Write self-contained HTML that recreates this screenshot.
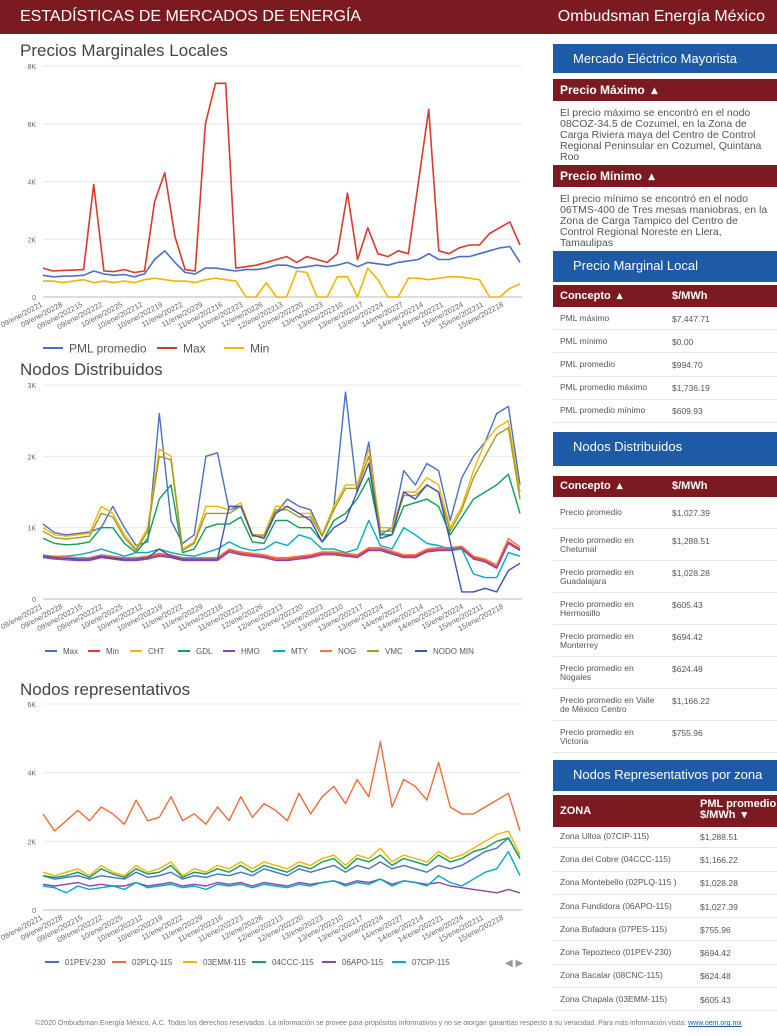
<!DOCTYPE html>
<html><head><meta charset="utf-8">
<style>
*{margin:0;padding:0;box-sizing:border-box}
body{width:777px;height:1036px;position:relative;background:#fff;font-family:"Liberation Sans",sans-serif;overflow:hidden;color:#555}
.abs{position:absolute}
.hdr{left:0;top:0;width:777px;height:34px;background:#7b1a21;color:#fff}
.blue{position:absolute;left:553px;width:224px;background:#1f5aa6;color:#fff;font-size:13px;padding-left:20px}
.mar{position:absolute;left:553px;width:224px;background:#7b1a21;color:#fff;font-size:12px;font-weight:bold;padding-left:7px}
.txt{position:absolute;left:560px;width:212px;font-size:10.5px;line-height:11px;color:#555}
.row{position:absolute;left:553px;width:224px;border-bottom:1px solid #e6e6e6;font-size:8.5px;color:#555}
.row span{position:absolute}
.ctitle{position:absolute;left:20px;font-size:17px;color:#444}
</style></head><body>
<div class="abs hdr">
 <div class="abs" style="left:20px;top:8px;font-size:16px">ESTADÍSTICAS DE MERCADOS DE ENERGÍA</div>
 <div class="abs" style="right:12px;top:8px;font-size:16px">Ombudsman Energía México</div>
</div>

<div class="ctitle" style="top:41px">Precios Marginales Locales</div>
<div class="ctitle" style="top:360px">Nodos Distribuidos</div>
<div class="ctitle" style="top:680px">Nodos representativos</div>

<svg id="charts" class="abs" style="left:0;top:0" width="550" height="1010"></svg>

<div class="abs" style="left:0;top:1020px;width:777px;text-align:center;font-size:7px;color:#777">©2020 Ombudsman Energía México, A.C. Todos los derechos reservados. La información se provee para propósitos informativos y no se otorgan garantías respecto a su veracidad. Para más información visita: <span style="color:#1f5aa6;text-decoration:underline">www.oem.org.mx</span></div>

<!-- right panel -->
<div class="blue" style="top:44px;height:29px;line-height:29px">Mercado Eléctrico Mayorista</div>
<div class="mar" style="top:79px;height:22px;line-height:22px">Precio Máximo &nbsp;▴</div>
<div class="txt" style="top:108px">El precio máximo se encontró en el nodo 08COZ-34.5 de Cozumel, en la Zona de Carga Riviera maya del Centro de Control Regional Peninsular en Cozumel, Quintana Roo</div>
<div class="mar" style="top:165px;height:22px;line-height:22px">Precio Mínimo &nbsp;▴</div>
<div class="txt" style="top:194px">El precio mínimo se encontró en el nodo 06TMS-400 de Tres mesas maniobras, en la Zona de Carga Tampico del Centro de Control Regional Noreste en Llera, Tamaulipas</div>
<div class="blue" style="top:251px;height:31px;line-height:29px">Precio Marginal Local</div>
<div class="mar" style="top:285px;height:22px;line-height:22px;font-size:11px">Concepto &nbsp;▴<span style="position:absolute;left:119px">$/MWh</span></div>
<div id="pmlrows"></div>
<div class="blue" style="top:432px;height:34px;line-height:30px">Nodos Distribuidos</div>
<div class="mar" style="top:476px;height:21px;line-height:21px;font-size:11px">Concepto &nbsp;▴<span style="position:absolute;left:119px">$/MWh</span></div>
<div id="ndrows"></div>
<div class="blue" style="top:760px;height:31px;line-height:29px">Nodos Representativos por zona</div>
<div class="mar" style="top:795px;height:32px;font-size:11px"><span style="position:absolute;top:10px">ZONA</span><span style="position:absolute;left:147px;top:4px;line-height:11px">PML promedio<br>$/MWh &nbsp;▾</span></div>
<div id="reprows"></div>

<script>
const NS="http://www.w3.org/2000/svg";
const svg=document.getElementById('charts');
const xLabels=["09/ene/20221","09/ene/20228","09/ene/202215","09/ene/202222","10/ene/20225","10/ene/202212","10/ene/202219","11/ene/20222","11/ene/20229","11/ene/202216","11/ene/202223","12/ene/20226","12/ene/202213","12/ene/202220","13/ene/20223","13/ene/202210","13/ene/202217","13/ene/202224","14/ene/20227","14/ene/202214","14/ene/202221","15/ene/20224","15/ene/202211","15/ene/202218"];

// chart 1
const c1Names=["PML promedio","Max","Min"];
const c1Ticks=[0,2000,4000,6000,8000];
const c1Max=[1000,900,920,930,950,3900,900,880,950,850,900,3300,4300,2100,950,900,6000,7400,7400,1000,1050,1100,1200,1300,1400,1200,1400,1300,1200,1500,3600,1300,2400,1500,1400,1600,1500,4000,6500,1600,1500,1700,1800,1800,2200,2400,2600,1800];
const c1Avg=[750,700,720,730,750,900,800,750,780,700,800,1300,1600,1200,850,800,1000,1000,950,900,950,950,1000,1100,1100,1000,1050,1100,1050,1100,1200,1050,1200,1150,1100,1200,1250,1300,1500,1300,1300,1400,1400,1500,1600,1700,1750,1200];
const c1Min=[550,550,500,550,600,500,550,500,550,500,600,650,600,550,550,500,600,650,600,550,0,0,500,0,0,900,850,0,0,700,700,0,1000,600,0,0,650,650,600,650,700,700,650,600,0,0,300,450];

// chart 2
const c2Names=["Max","Min","CHT","GDL","HMO","MTY","NOG","VMC","NODO MIN"];
const c2Ticks=[0,1000,2000,3000];
const c2Max=[1050,930,900,920,940,1000,1300,1000,750,800,2600,1100,780,900,2000,2050,1250,1300,900,900,1200,1400,1300,1250,900,1300,2900,1500,2200,900,1000,1800,1600,1900,1800,1100,1700,2000,2200,2600,2700,1600];
const c2Min=[600,580,570,560,560,600,580,560,560,580,620,600,560,560,560,560,680,640,620,600,560,560,580,600,640,640,620,600,700,700,650,600,600,680,700,700,720,580,540,450,800,700];
const c2CHT=[1000,900,880,900,920,1300,1200,900,700,1000,2100,2000,700,800,1300,1300,1250,1350,900,900,1300,1300,1200,1200,900,1300,1600,1600,2100,1000,1000,1500,1500,1700,1600,1000,1300,1800,2200,2400,2500,1500];
const c2GDL=[850,780,760,770,800,1000,1000,780,650,850,1400,1600,650,700,1000,1050,1050,1150,800,780,1100,1100,1000,1000,800,1100,1200,1400,1700,900,900,1300,1350,1400,1300,900,1150,1400,1500,1600,1750,1200];
const c2HMO=[580,560,550,540,540,580,560,540,540,560,600,580,540,540,540,540,660,620,600,580,540,540,560,580,620,620,600,580,680,680,630,580,580,660,680,680,700,560,520,430,780,680];
const c2MTY=[600,600,600,620,650,700,650,600,650,650,700,650,620,600,650,700,800,720,680,700,800,750,900,850,700,700,650,700,1100,750,700,1000,900,780,750,700,700,350,300,300,650,600];
const c2NOG=[620,600,590,580,580,620,600,580,580,600,640,620,580,580,580,580,700,660,640,620,580,580,600,620,660,660,640,620,720,720,670,620,620,700,720,720,740,600,560,480,850,730];
const c2VMC=[950,860,840,860,880,1200,1150,860,680,950,2000,1950,680,780,1200,1200,1200,1300,880,880,1250,1250,1150,1150,880,1250,1550,1550,2000,950,950,1450,1450,1600,1500,950,1250,1700,2000,2300,2400,1400];
const c2NodoMin=[600,580,570,560,560,600,570,560,560,580,700,600,560,560,560,560,1300,1300,900,850,1200,1300,1200,1100,800,1000,1100,1500,1900,850,900,1500,1400,1600,1500,800,100,100,150,100,400,500];

// chart 3
const c3Names=["01PEV-230","02PLQ-115","03EMM-115","04CCC-115","06APO-115","07CIP-115"];
const c3Ticks=[0,2000,4000,6000];
const c3PEV=[1000,900,950,1000,900,1000,950,900,1100,950,1000,1100,900,1000,950,1050,1000,1100,1000,1200,1100,1000,1200,1100,1200,1300,1100,1300,1200,1400,1200,1300,1200,1100,1300,1200,1300,1500,1700,1800,2100,1500];
const c3PLQ=[2800,2300,2600,2900,2600,3000,2800,2500,3200,2600,2700,3300,2600,2800,2500,3000,2600,3300,2700,3100,2900,2600,3400,2800,3300,3600,3100,3800,3300,4900,3000,3800,3600,3200,4300,3000,2800,2800,3000,3200,3400,2300];
const c3EMM=[1100,1000,1100,1200,1000,1300,1100,1000,1300,1100,1200,1400,1000,1200,1100,1300,1200,1400,1200,1400,1300,1200,1400,1300,1500,1600,1300,1600,1500,1800,1400,1600,1500,1400,1700,1500,1600,1800,2000,2200,2300,1600];
const c3CCC=[1000,950,1000,1100,950,1200,1050,950,1200,1050,1100,1300,950,1100,1050,1200,1100,1300,1100,1300,1200,1100,1300,1200,1400,1500,1200,1500,1400,1600,1300,1500,1400,1300,1600,1400,1500,1700,1800,2000,2100,1500];
const c3APO=[750,700,750,800,700,750,700,700,800,700,750,800,700,750,700,800,750,800,700,800,750,700,800,750,800,850,750,850,800,900,750,850,800,750,800,700,650,600,550,500,600,500];
const c3CIP=[700,650,500,700,600,650,700,600,800,650,700,750,650,700,600,750,700,750,650,750,700,650,750,700,800,850,700,800,750,900,700,850,800,700,1000,800,700,900,1100,1200,1700,1000];

function el(tag,attrs,parent){const e=document.createElementNS(NS,tag);for(const k in attrs)e.setAttribute(k,attrs[k]);(parent||svg).appendChild(e);return e;}

function chart(o){
 const g=el('g',{});
 
 
 const x0=43,x1=520;
 const maxV=o.ticks[o.ticks.length-1];
 const y=v=>o.yb-(v/maxV)*(o.yb-o.yt);
 o.ticks.forEach(t=>{
  const ln=el('line',{x1:x0,x2:x1+2,y1:y(t),y2:y(t),stroke:t===0?'#bbb':'#e8e8e8','stroke-width':1},g);
  
  
  const tx=el('text',{x:36,y:y(t)+3,'font-size':7,fill:'#666','text-anchor':'end'},g);
  tx.textContent=t===0?'0':(t/1000)+'K';
  
  
 });
 xLabels.forEach((l,i)=>{
  const xx=x0+i*(x1-x0)/23.8;
  const tx=el('text',{x:xx,y:o.yb+9,'font-size':7.5,fill:'#666','text-anchor':'end',transform:`rotate(-28 ${xx} ${o.yb+9})`},g);
  tx.textContent=l;
  
  
 });
 o.series.forEach((s,si)=>{
  const n=s.length;
  const pts=s.map((v,i)=>(x0+i*(x1-x0)/(n-1)).toFixed(1)+','+y(v).toFixed(1)).join(' ');
  const p=el('polyline',{points:pts,fill:'none',stroke:o.colors[si],'stroke-width':o.sw||1.6,'stroke-linejoin':'round'},g);
  
  
 });
 o.names.forEach((nm,i)=>{
  const lx=o.legX[i];
  const ln=el('line',{x1:lx,x2:lx+o.legLen,y1:o.legY,y2:o.legY,stroke:o.colors[i],'stroke-width':2},g);
  
  
  const tx=el('text',{x:lx+o.legLen+6,y:o.legY+o.legFs*0.36,'font-size':o.legFs,fill:'#555'},g);
  tx.textContent=nm;
  
  
 });
}
chart({name:'pml-chart',yt:66,yb:297,ticks:c1Ticks,series:[c1Avg,c1Max,c1Min],names:c1Names,colors:['#4a6fc4','#d93a2b','#f4b400'],legX:[43,157,224],legLen:20,legY:348,legFs:12});
chart({name:'nodos-chart',yt:385,yb:599,ticks:c2Ticks,series:[c2Max,c2Min,c2CHT,c2GDL,c2HMO,c2MTY,c2NOG,c2VMC,c2NodoMin],names:c2Names,colors:['#4a6fc4','#e03a2c','#f4b400','#0f9d58','#8e44ad','#00acc1','#ff7043','#9e9d24','#3f51b5'],legX:[45,88,130,178,223,273,320,367,415],legLen:12,legY:651,legFs:8,sw:1.4});
chart({name:'rep-chart',yt:704,yb:910,ticks:c3Ticks,series:[c3PLQ,c3PEV,c3EMM,c3CCC,c3APO,c3CIP],names:["02PLQ-115","01PEV-230","03EMM-115","04CCC-115","06APO-115","07CIP-115"],colors:['#ef6c3a','#4a6fc4','#f4b400','#0f9d58','#8e44ad','#00acc1'],legX:[112,45,183,252,322,392],legLen:14,legY:962,legFs:8,sw:1.4});
const arr=el('text',{x:505,y:966,'font-size':10,fill:'#999'});
arr.textContent='◀ ▶';



function rows(id,data,top,h,name){
 const c=document.getElementById(id);
 data.forEach((d,i)=>{
  const r=document.createElement('div');
  r.className='row';
  r.style.top=(top+i*h)+'px';r.style.height=h+'px';
  
  
  const two=d[0].includes('<br>');
  r.innerHTML=`<span style="left:7px;top:${two?(h/2-9):(h/2-5)}px;line-height:9px">${d[0]}</span><span style="left:${d[2]||119}px;top:${two?(h/2-9):(h/2-5)}px">${d[1]}</span>`;
  c.appendChild(r);
 });
}
rows('pmlrows',[["PML máximo","$7,447.71"],["PML mínimo","$0.00"],["PML promedio","$994.70"],["PML promedio máximo","$1,736.19"],["PML promedio mínimo","$609.93"]],307,23.2,'pml-table-row');
rows('ndrows',[["Precio promedio","$1,027.39"],["Precio promedio en<br>Chetumal","$1,288.51"],["Precio promedio en<br>Guadalajara","$1,028.28"],["Precio promedio en<br>Hermosillo","$605.43"],["Precio promedio en<br>Monterrey","$694.42"],["Precio promedio en<br>Nogales","$624.48"],["Precio promedio en Valle<br>de México Centro","$1,166.22"],["Precio promedio en<br>Victoria","$755.96"]],497,32,'nodos-table-row');
rows('reprows',[["Zona Ulloa (07CIP-115)","$1,288.51",147],["Zona del Cobre (04CCC-115)","$1,166.22",147],["Zona Montebello (02PLQ-115 )","$1,028.28",147],["Zona Fundidora (06APO-115)","$1,027.39",147],["Zona Bufadora (07PES-115)","$755.96",147],["Zona Tepozteco (01PEV-230)","$694.42",147],["Zona Bacalar (08CNC-115)","$624.48",147],["Zona Chapala (03EMM-115)","$605.43",147]],825,23.3,'rep-table-row');
</script>
</body></html>
